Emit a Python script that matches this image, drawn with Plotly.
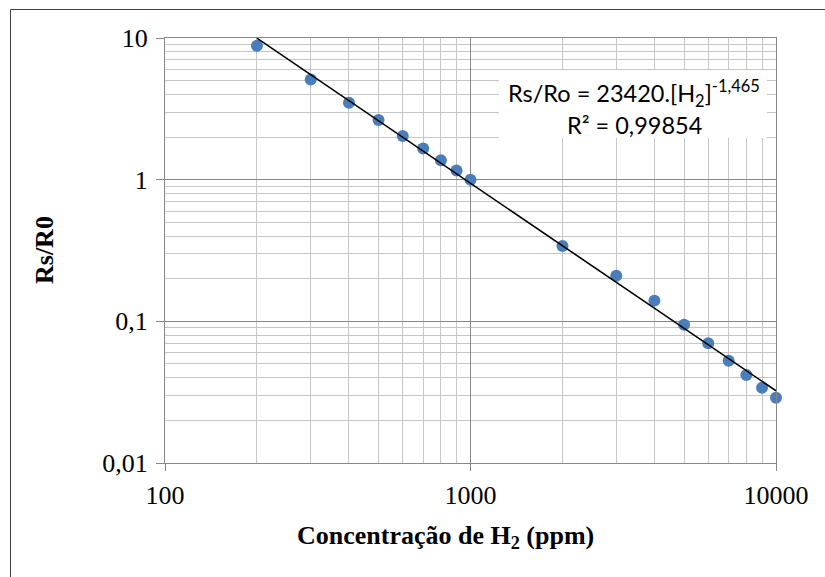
import plotly.graph_objects as go

# ---- data ----
conc_ppm = [200, 300, 400, 500, 600, 700, 800, 900, 1000,
            2000, 3000, 4000, 5000, 6000, 7000, 8000, 9000, 10000]
rs_r0 = [8.8, 5.1, 3.49, 2.64, 2.03, 1.66, 1.37, 1.16, 1.0,
         0.34, 0.21, 0.14, 0.0946, 0.070, 0.0527, 0.0418, 0.034, 0.0289]

fit_coef = 23420.0
fit_exp = -1.465

x_tickvals = [100, 1000, 10000]
x_ticktext = ["100", "1000", "10000"]
y_tickvals = [0.01, 0.1, 1, 10]
y_ticktext = ["0,01", "0,1", "1", "10"]

x_title = "Concentração de H<sub>2</sub> (ppm)"
y_title = "Rs/R0"
eq_line1 = "Rs/Ro = 23420.[H<sub>2</sub>]<sup>-1,465</sup>"
eq_line2 = "R² = 0,99854"

# trendline from the displayed power-law fit
fit_x = [min(conc_ppm), max(conc_ppm)]
fit_y = [fit_coef * v ** fit_exp for v in fit_x]

# ---- layout geometry (pixels) ----
W, H = 825, 577
L, R, T, B = 165, 776, 38, 463

def px(xp):
    return (xp - L) / (R - L)

def py(yp):
    return (B - yp) / (B - T)

MAJOR = "#878787"
MINOR = "#c6c6c6"
serif = "Liberation Serif"

fig = go.Figure()
fig.add_trace(go.Scatter(
    x=conc_ppm, y=rs_r0, mode="markers",
    marker=dict(size=12, color="#4a7ebb"),
    showlegend=False, cliponaxis=False))
fig.add_trace(go.Scatter(
    x=fit_x, y=fit_y, mode="lines",
    line=dict(color="black", width=1.6),
    showlegend=False))

axis_common = dict(
    type="log", showline=True, linecolor=MAJOR, linewidth=1, mirror=True,
    showgrid=True, gridcolor=MAJOR, gridwidth=1,
    ticks="outside", tickcolor=MAJOR, tickwidth=1,
    tickfont=dict(family=serif, size=26, color="black"),
    tickmode="array", zeroline=False,
    minor=dict(dtick="D1", showgrid=True, gridcolor=MINOR, gridwidth=1, ticks=""),
)

fig.update_layout(
    width=W, height=H,
    margin=dict(l=L, r=W - R, t=T, b=H - B, pad=0),
    paper_bgcolor="white", plot_bgcolor="white",
    xaxis=dict(range=[2, 4], tickvals=x_tickvals, ticktext=x_ticktext,
               ticklen=7, ticklabelstandoff=2, **axis_common),
    yaxis=dict(range=[-2, 1], tickvals=y_tickvals, ticktext=y_ticktext,
               ticklen=8, ticklabelstandoff=3, **axis_common),
    shapes=[
        dict(type="rect", xref="paper", yref="paper",
             x0=px(499), x1=px(767), y0=py(138), y1=py(70),
             fillcolor="white", line=dict(width=0), layer="above"),
        dict(type="line", xref="paper", yref="paper",
             x0=px(10.5), x1=px(830), y0=py(9.5), y1=py(9.5),
             line=dict(color="#404040", width=1)),
        dict(type="line", xref="paper", yref="paper",
             x0=px(10.5), x1=px(10.5), y0=py(9.5), y1=py(590),
             line=dict(color="#404040", width=1)),
    ],
    annotations=[
        dict(text=eq_line1, xref="paper", yref="paper", x=px(634), y=py(93),
             xanchor="center", yanchor="middle", showarrow=False,
             font=dict(family="Lato", size=23.5, color="black")),
        dict(text=eq_line2, xref="paper", yref="paper", x=px(634), y=py(125),
             xanchor="center", yanchor="middle", showarrow=False,
             font=dict(family="Lato", size=23.5, color="black")),
        dict(text="<b>" + x_title + "</b>", xref="paper", yref="paper",
             x=px(445), y=py(537), xanchor="center", yanchor="middle",
             showarrow=False, font=dict(family=serif, size=26, color="black")),
        dict(text="<b>" + y_title + "</b>", xref="paper", yref="paper",
             x=px(45), y=py(250), xanchor="center", yanchor="middle",
             textangle=-90, showarrow=False,
             font=dict(family=serif, size=26, color="black")),
    ],
)

fig.write_html("out.html", config={"displayModeBar": False},
               post_script="document.body.style.margin='0px';")
